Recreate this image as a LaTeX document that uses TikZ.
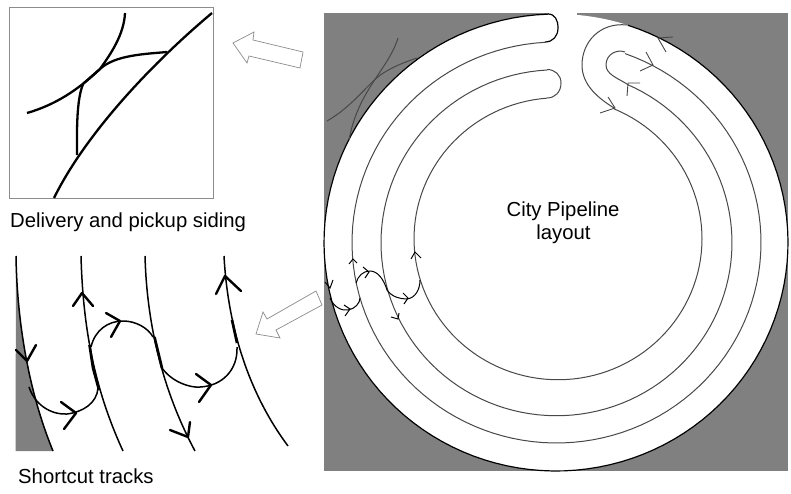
\documentclass[tikz,border=0pt]{standalone}
\usepackage{fontspec}
\setmainfont{Liberation Sans}
\definecolor{ground}{HTML}{808080}
\definecolor{railgray}{HTML}{484848}
\definecolor{framegray}{HTML}{8C8C8C}
\tikzset{
  ring/.style={railgray,line width=1pt,line join=round},
  outerring/.style={black,line width=1.2pt,line join=round},
  shortcut/.style={black,line width=1pt,line join=round},
  tinyhead/.style={railgray,line width=0.9pt},
  shorthead/.style={black,line width=1pt},
  detail/.style={black,line width=1.5pt,line join=round},
  detailhead/.style={black,line width=2.4pt,line join=round,line cap=round},
  siding/.style={black,line width=2.3pt,line join=round},
  blockarrow/.style={draw=framegray,fill=white,line width=0.7pt},
  caption/.style={font=\fontsize{20.3}{22}\selectfont,inner sep=0pt,black}
}
\begin{document}
\begin{tikzpicture}[x=1pt,y=-1pt]
        \useasboundingbox (0,0) rectangle (791,494);

        % city layout
        \fill[ground] (324,13) rectangle (788,471);
        \fill[white] (556,242.5) ellipse [x radius=232,y radius=228.5];
        \fill[white] (549,12) rectangle (577,17);

        \draw[outerring] plot[domain=-92:-432,samples=120] ({556+232*cos(\x)},{242.5+228.5*sin(\x)});
        \draw[ring] plot[domain=-93.2:-430.4,samples=120] ({556.5+204.5*cos(\x)},{242.5+200.5*sin(\x)});
        \draw[ring] plot[domain=-93.1:-426.3,samples=120] ({556.5+175.5*cos(\x)},{242.75+173*sin(\x)});
        \draw[ring] plot[domain=-94.4:-427.1,samples=120] ({558+144*cos(\x)},{238.75+141*sin(\x)});

        % track ends
        \draw[outerring] (548,14) .. controls (555,14) and (558,20) .. (558,28) .. controls (558,36) and (553,42) .. (545,42);
        \draw[ring] (547,69.5) .. controls (555,69.5) and (561,75) .. (561,83) .. controls (561,92) and (555,98) .. (547,98);
        \draw[ring] (627,25) .. controls (600,22) and (582,42) .. (582,65) .. controls (582,85) and (598,98) .. (614,108);
        \draw[ring] (625,52) .. controls (617,49) and (606,54) .. (606,65) .. controls (606,74) and (617,78) .. (627,84);

        % siding in the corner
        \draw[ring] (398,38) .. controls (388,70) and (358,90) .. (349,140);
        \draw[ring] (327,121) .. controls (355,105) and (370,80) .. (385,72) .. controls (395,66) and (405,62) .. (417,58);

        % shortcuts on the layout
        \draw[shortcut] (330,298) .. controls (334,308) and (343,311) .. (348,310) .. controls (355,309) and (360,303) .. (360,298);
        \draw[shortcut] (356,283) .. controls (358,276) and (363,271) .. (370,271) .. controls (378,271) and (384,280) .. (387,290);
        \draw[shortcut] (387,290) .. controls (392,297) and (400,299) .. (407,299) .. controls (415,298) and (420,290) .. (420,280);

        \foreach \ax/\ay/\bx/\by/\cx/\cy in {673/37/658/38/666/52,646/52/653/65/640/71,627/96/628/83/640/83,608/97/615/108/600/113}
          \draw[tinyhead] (\ax,\ay) -- (\bx,\by) -- (\cx,\cy);

        \foreach \ax/\ay/\bx/\by/\cx/\cy in {325/282/330/288/333/280,349/264/353/259/357/263,411/259/415/252/421/258,391/317/398/319/399/313,344/305/350/309/345/316,363/267/369/272/365/278,403/293/408/298/404/304}
          \draw[shorthead] (\ax,\ay) -- (\bx,\by) -- (\cx,\cy);

        % top left detail
        \draw[framegray,line width=0.9pt] (9,7) rectangle (213,198);
        \draw[siding] (54,198) .. controls (85,135) and (150,65) .. (212,13);
        \draw[siding] (27,113) .. controls (55,105) and (78,90) .. (100,69) .. controls (115,55) and (145,54) .. (167,52);
        \draw[siding] (125,13) .. controls (124,35) and (110,55) .. (100,69) -- (83.3,83.6) .. controls (76,100) and (77,135) .. (77,155);

        % bottom left detail
        \fill[ground] (16,256) .. controls (17,320) and (28,390) .. (53,451) -- (15.5,451) -- cycle;
        \draw[detail] (16,256) .. controls (17,320) and (28,390) .. (53,451);
        \draw[detail] (81,256) .. controls (83,330) and (95,390) .. (123,451);
        \draw[detail] (145,256) .. controls (147,330) and (165,395) .. (195,451);
        \draw[detail] (224,256) .. controls (228,330) and (250,395) .. (288,446);
        \draw[detail] (29,387) .. controls (36,408) and (55,415) .. (67,414) .. controls (83,412) and (97,403) .. (98,388);
        \draw[detail] (91,347) .. controls (95,330) and (108,321) .. (123,321) .. controls (136,321) and (148,328) .. (153,337);
        \draw[detail] (162,368) .. controls (172,382) and (190,388) .. (200,387) .. controls (222,386) and (238,370) .. (237,347);

        % worn stretches
        \draw[detail,line width=2.6pt] (89.5,345) -- (93,368) -- (99,390);
        \draw[detail,line width=2.6pt] (154.5,337) -- (162,368);
        \draw[detail,line width=2.6pt] (232,320) -- (237,343);

        \foreach \ax/\ay/\bx/\by/\cx/\cy in {16/350/27/361/36/345,73/306/82/293/93/306,106/313/120/321/111/337,216/294/225/276/241/291,61/402/76/413/64/429,196/374/211/385/199/402,170/430/188/437/190/422}
          \draw[detailhead] (\ax,\ay) -- (\bx,\by) -- (\cx,\cy);

        % block arrows
        \draw[blockarrow] (233,43) -- (254,32) -- (253,40) -- (303,52) -- (300,68) -- (249,56) -- (247,63) -- cycle;
        \draw[blockarrow] (256,334) -- (263,312) -- (267,319) -- (316,291) -- (322,305) -- (276,330) -- (280,338) -- cycle;

        \begin{scope}[every node/.style={caption}]
          \node[anchor=west] (sidingtext) at (10,222) {Delivery and pickup siding};
          \node[anchor=west] (shortcuttext) at (18,476) {Shortcut tracks};
          \node (citytext) at (563,211) {City Pipeline};
          \node (layouttext) at (563.5,234) {layout};
        \end{scope}

      \end{tikzpicture}
\end{document}
